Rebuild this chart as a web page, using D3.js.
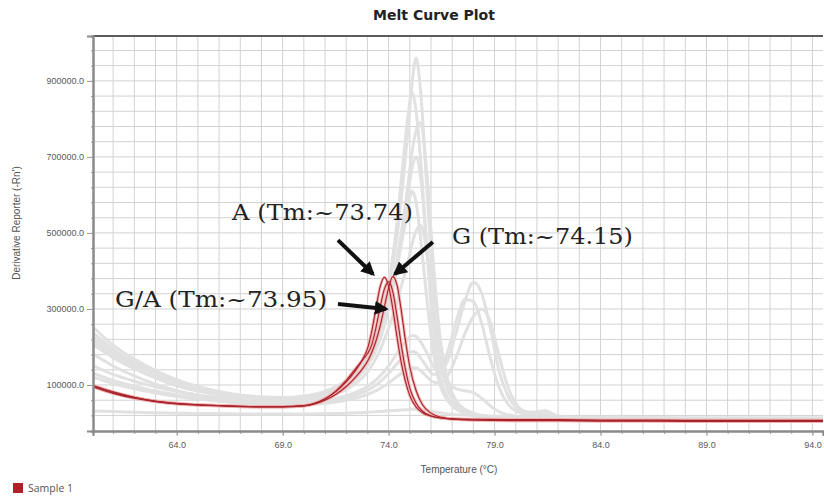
<!DOCTYPE html>
<html>
<head>
<meta charset="utf-8">
<script src="https://cdn.jsdelivr.net/npm/d3@7"></script>
<style>
  body { margin: 0; background: #fff; }
  svg { display: block; }
</style>
</head>
<body>
<svg id="chart" width="824" height="501"></svg>
<script>
// derivative reporter values are kept in thousands (x1000 on the axis)
const redTemps = [60.1, 61, 62, 63, 64, 65, 66, 67, 68, 69, 70, 70.5, 71, 71.5, 72, 72.4, 72.8, 73.0, 73.2, 73.4, 73.6, 73.8,
  74.0, 74.2, 74.4, 74.6, 74.8, 75.0, 75.3, 75.6, 76.0, 76.5, 77, 78, 80, 82, 84, 86, 88, 90, 92, 94.5];
const sampleA = [96, 80, 67, 57, 51, 48, 46, 44, 43, 43, 46, 52, 64, 82, 108, 135, 170, 195, 240, 300, 358, 383,
  360, 300, 225, 158, 108, 72, 42, 27, 18, 13, 11, 10, 9, 9, 8, 8, 7, 7, 7, 7];
const sampleG = [98, 82, 68, 58, 52, 48, 46, 44, 43, 43, 45, 50, 60, 75, 96, 118, 145, 162, 185, 215, 255, 305,
  355, 385, 362, 295, 215, 148, 85, 48, 26, 15, 11, 8, 6, 6, 5, 5, 4, 4, 4, 4];
const sampleGA = [94, 78, 65, 56, 50, 47, 45, 43, 42, 42, 45, 51, 63, 84, 112, 140, 168, 182, 205, 250, 305, 352,
  372, 345, 280, 205, 140, 92, 52, 31, 19, 13, 10, 8, 7, 7, 6, 6, 6, 5, 5, 5];

const grayTemps = [60.1, 61, 62, 63, 64, 65, 66, 67, 68, 69, 70, 71, 72, 72.5, 73, 73.5, 74, 74.3, 74.6, 74.9, 75.1, 75.3,
  75.5, 75.8, 76.1, 76.4, 76.8, 77.2, 77.6, 78.0, 78.4, 78.8, 79.2, 79.6, 80, 80.5, 81, 81.4, 82, 83, 85, 88, 91, 94.5];
const gray1 = [250, 205, 168, 138, 114, 96, 83, 74, 69, 67, 71, 84, 112, 140, 185, 260, 360, 450, 590, 760, 890, 960,
  880, 620, 360, 190, 90, 48, 30, 22, 18, 16, 15, 14, 14, 13, 13, 13, 12, 12, 11, 11, 10, 10];
const gray2 = [235, 195, 160, 132, 110, 93, 81, 72, 67, 66, 70, 82, 110, 138, 180, 255, 370, 480, 640, 800, 870, 820,
  700, 460, 250, 130, 65, 38, 26, 20, 17, 15, 14, 13, 13, 12, 12, 12, 11, 11, 10, 10, 9, 9];
const gray3 = [225, 188, 155, 128, 106, 90, 79, 71, 66, 64, 68, 79, 104, 128, 165, 230, 320, 400, 500, 620, 710, 770,
  790, 660, 430, 240, 110, 58, 36, 26, 20, 17, 16, 15, 14, 14, 13, 13, 13, 12, 12, 11, 11, 11];
const gray4 = [215, 180, 150, 124, 103, 88, 77, 69, 64, 62, 66, 77, 100, 124, 160, 220, 310, 390, 490, 600, 670, 700,
  650, 470, 290, 170, 110, 90, 85, 80, 65, 45, 30, 22, 18, 15, 14, 13, 13, 12, 12, 11, 11, 11];
const gray5 = [205, 172, 143, 118, 98, 84, 74, 66, 61, 59, 63, 74, 96, 118, 150, 205, 300, 380, 470, 560, 610, 580,
  490, 330, 190, 105, 58, 36, 25, 20, 17, 15, 14, 13, 13, 12, 12, 12, 11, 11, 10, 10, 10, 10];
const gray6 = [150, 128, 110, 95, 83, 74, 67, 62, 58, 56, 59, 68, 88, 106, 134, 180, 250, 300, 360, 420, 470, 505,
  520, 450, 300, 170, 85, 48, 32, 24, 19, 16, 15, 14, 13, 13, 12, 12, 12, 11, 11, 10, 10, 10];
const gray7 = [180, 150, 124, 102, 85, 73, 64, 58, 54, 52, 54, 60, 72, 82, 96, 118, 150, 175, 200, 220, 230, 228,
  215, 185, 150, 135, 165, 240, 320, 370, 340, 250, 140, 75, 42, 28, 24, 26, 18, 14, 12, 11, 10, 10];
const gray8 = [130, 112, 97, 84, 74, 66, 60, 55, 51, 49, 51, 56, 66, 75, 86, 104, 130, 150, 168, 182, 188, 185,
  172, 148, 128, 130, 190, 270, 325, 320, 260, 170, 95, 52, 32, 24, 30, 32, 18, 13, 11, 10, 9, 9];
const gray9 = [120, 104, 90, 79, 70, 63, 57, 52, 49, 47, 48, 52, 60, 66, 75, 88, 105, 118, 130, 140, 146, 145,
  138, 122, 108, 105, 125, 175, 235, 280, 300, 265, 180, 100, 52, 30, 28, 22, 15, 12, 10, 9, 9, 9];
const gray10 = [32, 30, 28, 27, 26, 25, 25, 24, 24, 24, 24, 25, 26, 27, 28, 30, 32, 33, 34, 35, 36, 36,
  35, 33, 30, 27, 24, 22, 21, 20, 19, 18, 18, 17, 17, 16, 17, 16, 15, 15, 15, 14, 14, 14];

const xTicks = [64, 69, 74, 79, 84, 89, 94];
const yTicks = [100, 300, 500, 700, 900];

const noteLabels = ["A (Tm:~73.74)", "G (Tm:~74.15)", "G/A (Tm:~73.95)"];
const noteAt = [[66.61, 534], [76.99, 471], [61.09, 305]];
const arrowFrom = [[71.61, 481], [76.09, 476], [71.61, 313]];
const arrowTo = [[73.26, 392], [74.30, 392], [73.88, 300]];

const svg = d3.select("#chart");
const plot = { left: 93, right: 823, top: 36, bottom: 431 };

const x = d3.scaleLinear().domain([60.05, 94.5]).range([plot.left, plot.right]);
const y = d3.scaleLinear().domain([-21, 1018]).range([plot.bottom, plot.top]);

const narrow = "'Liberation Sans Narrow', 'Arial Narrow', 'Liberation Sans', sans-serif";

// grid
const grid = svg.append("g");
grid.selectAll(".vg")
  .data(d3.range(61, 95))
  .enter()
  .append("line")
  .attr("x1", (d) => x(d)).attr("x2", (d) => x(d))
  .attr("y1", plot.top).attr("y2", plot.bottom)
  .attr("stroke", "#d2d2d2")
  .attr("stroke-width", 1);
grid.selectAll(".hg")
  .data(d3.range(20, 1000, 40))
  .enter()
  .append("line")
  .attr("x1", plot.left).attr("x2", plot.right)
  .attr("y1", (d) => y(d)).attr("y2", (d) => y(d))
  .attr("stroke", "#d2d2d2")
  .attr("stroke-width", 1);

const line = (temps) => d3.line()
  .x((d, i) => x(temps[i]))
  .y((d) => y(d))
  .curve(d3.curveMonotoneX);

// other wells in light gray
const grays = [gray10, gray9, gray8, gray7, gray6, gray5, gray4, gray3, gray2, gray1];
svg.append("g")
  .selectAll("path")
  .data(grays)
  .enter()
  .append("path")
  .attr("d", line(grayTemps))
  .attr("fill", "none")
  .attr("stroke", "#e1e1e1")
  .attr("stroke-width", 3);

// Sample 1 wells
const reds = [sampleA, sampleGA, sampleG];
const redGroup = svg.append("g");
redGroup.selectAll(".halo")
  .data(reds)
  .enter()
  .append("path")
  .attr("d", line(redTemps))
  .attr("fill", "none")
  .attr("stroke", "#f0b4b4")
  .attr("stroke-width", 3);
redGroup.selectAll(".core")
  .data(reds)
  .enter()
  .append("path")
  .attr("d", line(redTemps))
  .attr("fill", "none")
  .attr("stroke", "#a8232b")
  .attr("stroke-width", 1.1);

// frame + axes
svg.append("line")
  .attr("x1", plot.left).attr("x2", plot.right)
  .attr("y1", plot.top).attr("y2", plot.top)
  .attr("stroke", "#5c5c5c").attr("stroke-width", 2);

const xMinor = svg.append("g")
  .attr("transform", `translate(0,${plot.bottom})`)
  .call(d3.axisBottom(x).tickValues(d3.range(61, 95)).tickSize(3).tickFormat(""));
const xAxis = svg.append("g")
  .attr("transform", `translate(0,${plot.bottom})`)
  .call(d3.axisBottom(x).tickValues(xTicks).tickSize(5).tickPadding(6).tickFormat(d3.format(".1f")));
const yMinor = svg.append("g")
  .attr("transform", `translate(${plot.left},0)`)
  .call(d3.axisLeft(y).tickValues(d3.range(20, 1000, 40)).tickSize(2).tickFormat(""));
const yAxis = svg.append("g")
  .attr("transform", `translate(${plot.left},0)`)
  .call(d3.axisLeft(y).tickValues(yTicks).tickSize(6).tickPadding(3)
    .tickFormat((d) => (d * 1000).toFixed(1)));

[xMinor, xAxis, yMinor, yAxis].forEach((g) => {
  g.select(".domain").attr("stroke", "#8a8a8a").attr("stroke-width", 2);
  g.selectAll(".tick line").attr("stroke", "#9a9a9a");
  g.selectAll("text")
    .attr("font-family", narrow)
    .attr("font-size", 9)
    .attr("fill", "#5a5a5a");
});

// titles
svg.append("text")
  .attr("x", 434).attr("y", 20)
  .attr("text-anchor", "middle")
  .attr("font-family", "'DejaVu Sans', sans-serif")
  .attr("font-weight", "bold")
  .attr("font-size", 14)
  .attr("fill", "#222")
  .text("Melt Curve Plot");

svg.append("text")
  .attr("x", 459).attr("y", 473)
  .attr("text-anchor", "middle")
  .attr("font-family", narrow)
  .attr("font-size", 10)
  .attr("fill", "#555")
  .text("Temperature (°C)");

svg.append("text")
  .attr("transform", "translate(20,223) rotate(-90)")
  .attr("text-anchor", "middle")
  .attr("font-family", narrow)
  .attr("font-size", 10)
  .attr("fill", "#555")
  .text("Derivative Reporter (-Rn')");

// legend
svg.append("rect")
  .attr("x", 13).attr("y", 483)
  .attr("width", 10).attr("height", 10)
  .attr("fill", "#b3202a");
svg.append("text")
  .attr("x", 28).attr("y", 492)
  .attr("font-family", "'Open Sans', sans-serif")
  .attr("font-size", 10.5)
  .attr("fill", "#555")
  .text("Sample 1");

// annotations
svg.append("defs").append("marker")
  .attr("id", "head")
  .attr("viewBox", "0 0 10 10")
  .attr("refX", 8).attr("refY", 5)
  .attr("markerUnits", "userSpaceOnUse")
  .attr("markerWidth", 14).attr("markerHeight", 14)
  .attr("orient", "auto")
  .append("path")
  .attr("d", "M0,0 L10,5 L0,10 Z")
  .attr("fill", "#111");

svg.append("g")
  .selectAll("line")
  .data(arrowFrom)
  .enter()
  .append("line")
  .attr("x1", (d) => x(d[0])).attr("y1", (d) => y(d[1]))
  .attr("x2", (d, i) => x(arrowTo[i][0])).attr("y2", (d, i) => y(arrowTo[i][1]))
  .attr("stroke", "#111")
  .attr("stroke-width", 4)
  .attr("marker-end", "url(#head)");

svg.append("g")
  .selectAll("text")
  .data(noteLabels)
  .enter()
  .append("text")
  .attr("x", (d, i) => x(noteAt[i][0]))
  .attr("y", (d, i) => y(noteAt[i][1]))
  .attr("font-family", "'DejaVu Serif', serif")
  .attr("font-size", 23)
  .attr("fill", "#222")
  .attr("textLength", (d) => (d.length > 13 ? 212 : 181))
  .attr("lengthAdjust", "spacingAndGlyphs")
  .text((d) => d);
</script>
</body>
</html>
